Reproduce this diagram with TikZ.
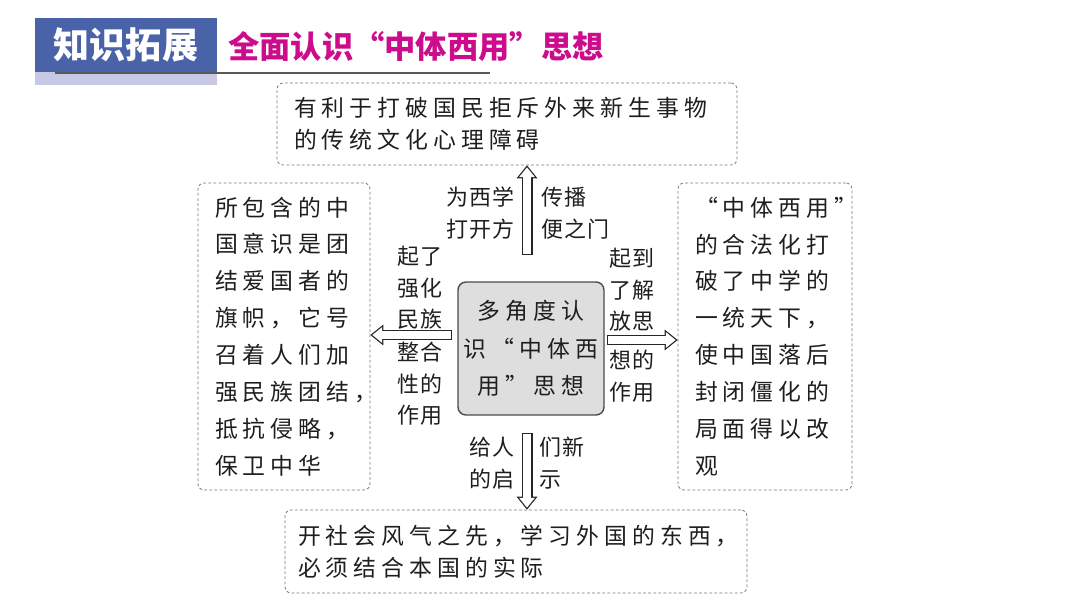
\documentclass[tikz,border=0pt]{standalone}
\usepackage{fontspec}
\usetikzlibrary{arrows.meta}
\newfontfamily\kai[LetterSpace=22,CharacterWidth=Full]{Noto Sans CJK SC}
\newfontfamily\kaitag[LetterSpace=6,CharacterWidth=Full]{Noto Sans CJK SC}
\newfontfamily\hei[CharacterWidth=Full]{Noto Sans CJK SC}
\definecolor{tagblue}{RGB}{74,98,168}
\definecolor{taglight}{RGB}{198,200,230}
\definecolor{titlemag}{RGB}{204,12,140}
\definecolor{ink}{RGB}{30,30,30}
\definecolor{dashgray}{RGB}{120,120,120}

\begin{document}
\begin{tikzpicture}[
	x=0.02cm, y=-0.02cm,
	box/.style={ draw=dashgray, line width=0.45pt, dash pattern=on 1.6pt off 1.3pt, rounded corners=0.12cm, text=ink, align=left, inner xsep=0.34cm, font=\kai\fontsize{13pt}{21pt}\selectfont },
	wide/.style={ box, font=\kai\fontsize{13pt}{18pt}\selectfont },
	core/.style={ draw=black!70, fill=black!13, line width=0.8pt, rounded corners=0.16cm, text=ink, align=center, minimum width=2.84cm, minimum height=2.66cm, font=\kai\fontsize{13pt}{21.5pt}\selectfont },
	tag/.style={ text=ink, inner sep=0pt, font=\kaitag\fontsize{12.5pt}{18pt}\selectfont },
	fat/.style={ draw=black!85, line width=0.22cm, -{Triangle[length=0.26cm, width=0.42cm, line width=0pt]},
		postaction={ draw=white, line width=0.17cm, shorten <=0.025cm, shorten >=0.04cm, -{Triangle[length=0.195cm, width=0.315cm, line width=0pt]} } }
]

\useasboundingbox (0,0) rectangle (1080,608);

\fill[taglight] (35,72) rectangle (217,85);
\node at (126,45) (head) [fill=tagblue, minimum width=3.64cm, minimum height=1.08cm, text=white, font=\hei\bfseries\fontsize{20.5pt}{24pt}\selectfont] {知识拓展};
\draw[black!65, line width=1.2pt] (55,73) -- (490,73);
\node at (228,47) (title) [anchor=west, inner sep=0pt, text=titlemag, font=\hei\bfseries\fontsize{17.8pt}{22pt}\selectfont] {全面认识“中体西用”思想};

\node at (531,348.5) (ctr) [core] {多角度认\\识“中体西\\用”思想};
\node at (507,124) (top) [wide, minimum width=9.2cm, minimum height=1.64cm, text width=8.52cm] {有利于打破国民拒斥外来新生事物\\的传统文化心理障碍};
\node at (516,551.5) (bot) [wide, inner xsep=0.26cm, minimum width=9.24cm, minimum height=1.66cm, text width=8.72cm] {开社会风气之先，学习外国的东西，\\必须结合本国的实际};
\node at (284,336.5) (lft) [box, minimum width=3.44cm, minimum height=6.14cm, text width=2.76cm] {所包含的中\\国意识是团\\结爱国者的\\旗帜，它号\\召着人们加\\强民族团结，\\抵抗侵略，\\保卫中华};
\node at (765,336.5) (rgt) [box, minimum width=3.48cm, minimum height=6.14cm, text width=2.8cm] {“中体西用”\\的合法化打\\破了中学的\\一统天下，\\使中国落后\\封闭僵化的\\局面得以改\\观};

\coordinate (upstart) at (527,255);
\coordinate (downstart) at (527,433);
\coordinate (leftstart) at (452,335);
\coordinate (rightstart) at (607,340);
\draw [fat] (upstart) to (upstart |- top.south);
\draw [fat] (downstart) to (downstart |- bot.north);
\draw [fat] (leftstart) to (leftstart -| lft.east);
\draw [fat] (rightstart) to (rightstart -| rgt.west);

\node at (515,213) (upl) [tag, anchor=east, align=right] {为西学\\打开方};
\node at (541,213) (upr) [tag, anchor=west, align=left] {传播\\便之门};
\node at (420,288) (lfta) [tag, align=center] {起了\\强化\\民族};
\node at (420,384) (lftb) [tag, align=center] {整合\\性的\\作用};
\node at (632,290) (rgta) [tag, align=center] {起到\\了解\\放思};
\node at (632,376) (rgtb) [tag, align=center] {想的\\作用};
\node at (515,463) (dnl) [tag, anchor=east, align=right] {给人\\的启};
\node at (539,463) (dnr) [tag, anchor=west, align=left] {们新\\示};

\end{tikzpicture}
\end{document}
